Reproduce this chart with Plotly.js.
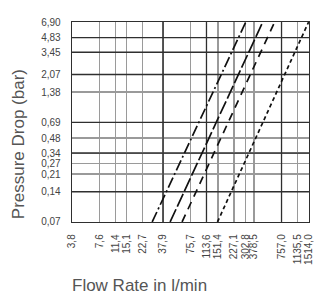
<!DOCTYPE html>
<html>
<head>
<meta charset="utf-8">
<script src="https://cdn.plot.ly/plotly-3.0.1.min.js"></script>
<style>html,body{margin:0;padding:0;background:#fff;}#chart{width:319px;height:297px;}</style>
</head>
<body>
<div id="chart"></div>
<script>
// ---- data ----
const flowTicks = [3.8, 7.6, 11.4, 15.1, 22.7, 37.9, 75.7, 113.6, 151.4, 227.1, 302.8, 378.5, 757.0, 1135.5, 1514.0];
const flowTickLabels = ["3,8","7,6","11,4","15,1","22,7","37,9","75,7","113,6","151,4","227,1","302,8","378,5","757,0","1135,5","1514,0"];
const pressureTicks = [0.07, 0.14, 0.21, 0.27, 0.34, 0.48, 0.69, 1.38, 2.07, 3.45, 4.83, 6.90];
const pressureTickLabels = ["0,07","0,14","0,21","0,27","0,34","0,48","0,69","1,38","2,07","3,45","4,83","6,90"];

const pressureEnds = [0.07, 6.90];
const flowLine1 = [28.8, 307];
const flowLine2 = [45.3, 471];
const flowLine3 = [61.3, 636];
const flowLine4 = [150, 1500];

// ---- style ----
const darkFlowGrid = [37.9, 113.6, 757.0];
const darkPressureGrid = [0.14, 0.34, 0.69, 2.07, 3.45, 4.83];
const DARK = '#2f2f2f', GRAY = '#9a9a9a';
const FONT = '"Liberation Sans", Arial, sans-serif';

const xmin = flowTicks[0], xmax = flowTicks[flowTicks.length-1];
const ymin = pressureTicks[0], ymax = pressureTicks[pressureTicks.length-1];

function vLines(vals){const x=[],y=[];vals.forEach(v=>{x.push(v,v,null);y.push(ymin,ymax,null);});return {x,y};}
function hLines(vals){const x=[],y=[];vals.forEach(v=>{x.push(xmin,xmax,null);y.push(v,v,null);});return {x,y};}
const vg = vLines(darkFlowGrid), hg = hLines(darkPressureGrid);

const traces = [
  {x: vg.x, y: vg.y, mode:'lines', line:{color:DARK, width:1.3}, hoverinfo:'skip', showlegend:false},
  {x: hg.x, y: hg.y, mode:'lines', line:{color:DARK, width:1.3}, hoverinfo:'skip', showlegend:false},
  {x: flowLine1, y: pressureEnds, mode:'lines', line:{color:'#111', width:1.7, dash:'11px,3px,2px,3px'}, showlegend:false},
  {x: flowLine2, y: pressureEnds, mode:'lines', line:{color:'#111', width:1.7, dash:'14px,3px'}, showlegend:false},
  {x: flowLine3, y: pressureEnds, mode:'lines', line:{color:'#111', width:1.7, dash:'8px,6px'}, showlegend:false},
  {x: flowLine4, y: pressureEnds, mode:'lines', line:{color:'#111', width:1.7, dash:'4px,3px'}, showlegend:false}
];

const layout = {
  width: 319, height: 297,
  margin: {l: 72, r: 10, t: 22, b: 75, pad: 0},
  paper_bgcolor: '#fff', plot_bgcolor: '#fff',
  font: {family: FONT, size: 10, color: '#444'},
  showlegend: false,
  xaxis: {
    type: 'log',
    range: [Math.log10(xmin) - 0.0005, Math.log10(xmax) + 0.0005],
    tickmode: 'array', tickvals: flowTicks, ticktext: flowTickLabels,
    tickangle: -90,
    ticks: 'outside', ticklen: 7, tickcolor: 'rgba(0,0,0,0)',
    showgrid: true, gridcolor: GRAY, gridwidth: 1.3,
    showline: true, mirror: true, linecolor: DARK, linewidth: 1.3,
    zeroline: false,
    tickfont: {family: FONT, size: 10, color: '#444'}
  },
  yaxis: {
    type: 'log',
    range: [Math.log10(ymin) - 0.0005, Math.log10(ymax) + 0.0005],
    tickmode: 'array', tickvals: pressureTicks, ticktext: pressureTickLabels,
    ticks: 'outside', ticklen: 8, tickcolor: 'rgba(0,0,0,0)',
    showgrid: true, gridcolor: GRAY, gridwidth: 1.3,
    showline: true, mirror: true, linecolor: DARK, linewidth: 1.3,
    zeroline: false,
    tickfont: {family: FONT, size: 10, color: '#444'}
  },
  annotations: [
    {text: 'Pressure Drop (bar)', xref: 'paper', yref: 'paper', x: -0.227, y: 0.39,
     xanchor: 'center', yanchor: 'middle', textangle: -90, showarrow: false,
     font: {family: FONT, size: 17, color: '#555'}},
    {text: 'Flow Rate in l/min', xref: 'paper', yref: 'paper', x: -0.008, y: -0.3175,
     xanchor: 'left', yanchor: 'middle', showarrow: false,
     font: {family: FONT, size: 17, color: '#555'}}
  ]
};

Plotly.newPlot('chart', traces, layout, {displayModeBar: false, staticPlot: true});
</script>
</body>
</html>
